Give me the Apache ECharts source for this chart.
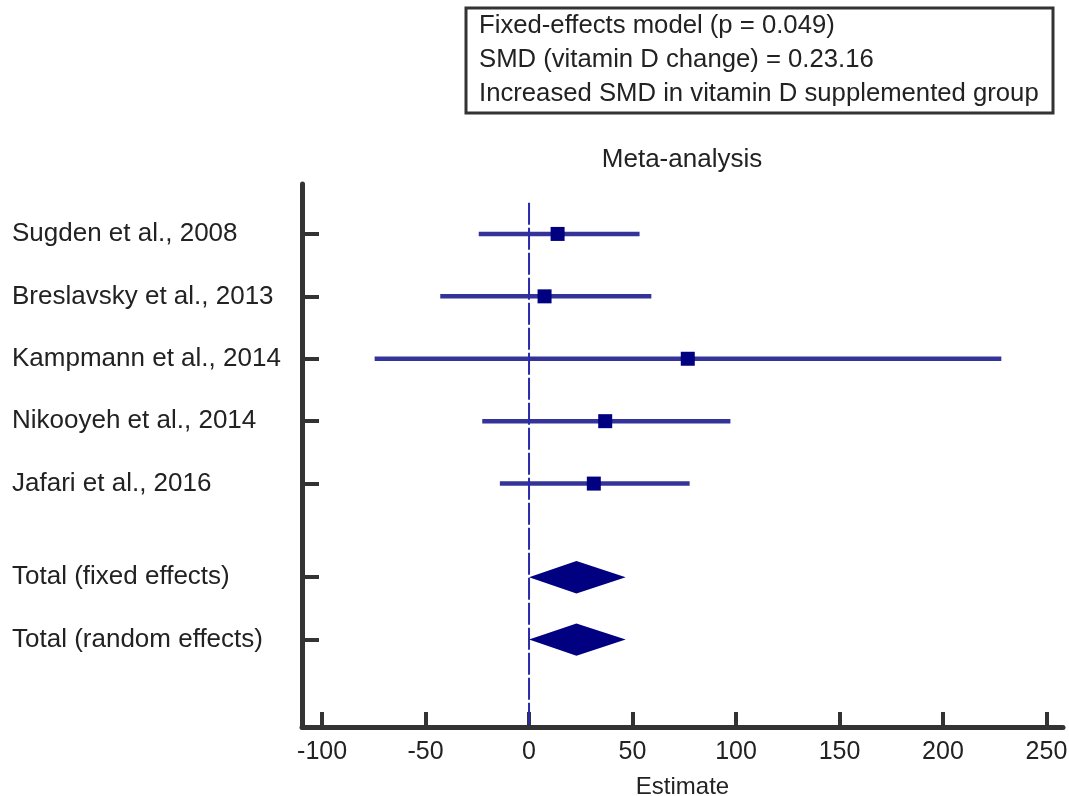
<!DOCTYPE html>
<html>
<head>
<meta charset="utf-8">
<script src="https://cdn.jsdelivr.net/npm/echarts@6/dist/echarts.min.js"></script>
<style>html,body{margin:0;padding:0;background:#fff}#c{width:1069px;height:796px}</style>
</head>
<body>
<div id="c"></div>
<script>
// ---- data ----
const studies = ['Sugden et al., 2008','Breslavsky et al., 2013','Kampmann et al., 2014','Nikooyeh et al., 2014','Jafari et al., 2016'];
const studyRow = [1, 2, 3, 4, 5];
const studyEst = [13.8, 7.5, 76.7, 36.8, 31.3];
const studyLo = [-24.3, -42.9, -74.6, -22.6, -14.1];
const studyHi = [53.4, 59.1, 228.2, 97.3, 77.6];
const totals = ['Total (fixed effects)', 'Total (random effects)'];
const totalRow = [6.5, 7.5];
const totalEst = [22.9, 22.9];
const totalLo = [0.0, 0.0];
const totalHi = [46.7, 46.7];
const xTicks = [-100, -50, 0, 50, 100, 150, 200, 250];
const boxLines = ['Fixed-effects model (p = 0.049)', 'SMD (vitamin D change) = 0.23.16', 'Increased SMD in vitamin D supplemented group'];

const FONT = '"Liberation Sans", Arial, sans-serif';
const rowLabel = {};
studies.forEach((s, i) => rowLabel[studyRow[i]] = s);
totals.forEach((s, i) => rowLabel[totalRow[i]] = s);
const yTicks = studyRow.concat(totalRow);

const chart = echarts.init(document.getElementById('c'), null, {renderer: 'canvas'});
const ciData = studies.map((s, i) => [studyLo[i], studyHi[i], studyRow[i]]);
const sqData = studies.map((s, i) => [studyEst[i], studyRow[i]]);
const dmData = totals.map((s, i) => [totalLo[i], totalEst[i], totalHi[i], totalRow[i]]);

chart.setOption({
  animation: false,
  title: {
    text: 'Meta-analysis', left: 682, top: 147, textAlign: 'center', padding: 0,
    textStyle: {fontFamily: FONT, fontSize: 26, fontWeight: 'normal', color: '#222'}
  },
  grid: {left: 302, right: 6, top: 184, bottom: 69, containLabel: false, outerBoundsMode: 'none'},
  xAxis: {
    type: 'value', min: -109.7, max: 258,
    name: 'Estimate', nameLocation: 'middle', nameGap: 48,
    nameTextStyle: {fontFamily: FONT, fontSize: 24, color: '#222'},
    axisLine: {show: true, onZero: false, lineStyle: {color: '#333', width: 5}},
    axisTick: {show: true, inside: true, length: 15, customValues: xTicks, lineStyle: {color: '#333', width: 4}},
    axisLabel: {customValues: xTicks, margin: 13, fontFamily: FONT, fontSize: 25, color: '#222'},
    splitLine: {show: false}
  },
  yAxis: {
    type: 'value', inverse: true, min: 0.2, max: 8.9,
    axisLine: {show: true, onZero: false, lineStyle: {color: '#333', width: 5}},
    axisTick: {show: true, inside: true, length: 17, customValues: yTicks, lineStyle: {color: '#333', width: 4}},
    axisLabel: {
      customValues: yTicks, align: 'left', margin: 290,
      fontFamily: FONT, fontSize: 26, color: '#222',
      formatter: v => rowLabel[v] || ''
    },
    splitLine: {show: false}
  },
  graphic: [
    {type: 'rect', shape: {x: 466, y: 8, width: 587, height: 105}, style: {fill: '#fff', stroke: '#333', lineWidth: 3}},
    {type: 'text', x: 479, y: 9, style: {text: boxLines.join('\n'), font: '25.7px ' + FONT, fill: '#222', lineHeight: 34}}
  ],
  series: [
    {
      type: 'custom', z: 2, data: ciData,
      renderItem: (params, api) => {
        const a = api.coord([api.value(0), api.value(2)]);
        const b = api.coord([api.value(1), api.value(2)]);
        return {type: 'line', shape: {x1: a[0], y1: a[1], x2: b[0], y2: b[1]}, style: {stroke: '#333399', lineWidth: 4.5}};
      }
    },
    {
      type: 'line', z: 3, data: [[0, 0.5], [0, 8.9]], symbol: 'none',
      lineStyle: {color: '#2a2aaa', width: 2, type: [22, 3]}
    },
    {
      type: 'scatter', z: 4, data: sqData, symbol: 'rect', symbolSize: 14,
      itemStyle: {color: '#000080', opacity: 1}
    },
    {
      type: 'custom', z: 4, data: dmData,
      renderItem: (params, api) => {
        const y = api.value(3), h = 0.26;
        const pts = [
          api.coord([api.value(0), y]),
          api.coord([api.value(1), y - h]),
          api.coord([api.value(2), y]),
          api.coord([api.value(1), y + h])
        ];
        return {type: 'polygon', shape: {points: pts}, style: {fill: '#000080'}};
      }
    }
  ]
});
</script>
</body>
</html>
